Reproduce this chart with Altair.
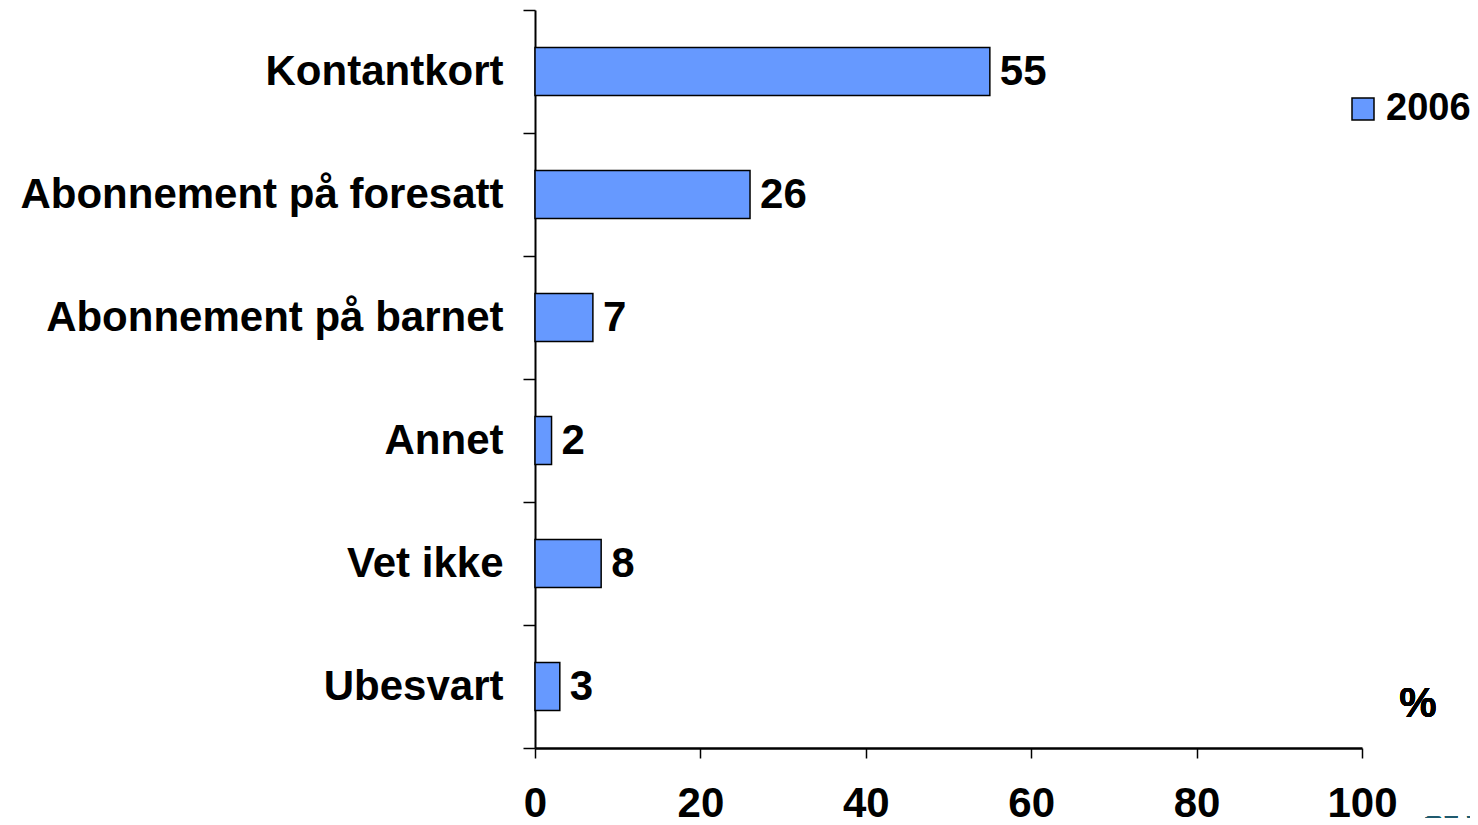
import altair as alt
import pandas as pd

categories = ["Kontantkort", "Abonnement på foresatt", "Abonnement på barnet", "Annet", "Vet ikke", "Ubesvart"]
values = [55, 26, 7, 2, 8, 3]
series = ["2006"] * len(categories)
x_ticks = [0, 20, 40, 60, 80, 100]

df = pd.DataFrame({"cat": categories, "val": values, "year": series})

FONT = "Liberation Sans"

y_enc = alt.Y(
    "cat:N",
    sort=categories,
    title=None,
    scale=alt.Scale(paddingInner=0, paddingOuter=0),
    axis=alt.Axis(
        tickBand="extent",
        tickSize=12,
        tickColor="black",
        tickWidth=1.5,
        domainColor="black",
        domainWidth=2,
        labelFontSize=42,
        labelFont=FONT,
        labelFontWeight="bold",
        labelColor="black",
        labelPadding=20,
        labelLimit=700,
    ),
)
x_enc = alt.X(
    "val:Q",
    title=None,
    scale=alt.Scale(domain=[0, 100], nice=False),
    axis=alt.Axis(
        values=x_ticks,
        grid=False,
        tickSize=10,
        tickColor="black",
        tickWidth=1.5,
        domainColor="black",
        domainWidth=2.5,
        labelFontSize=42,
        labelFont=FONT,
        labelFontWeight="bold",
        labelColor="black",
        labelPadding=25,
        labelFlush=False,
    ),
)

bars = alt.Chart(df).mark_bar(stroke="black", strokeWidth=1.5, height=48).encode(
    x=x_enc,
    y=y_enc,
    color=alt.Color(
        "year:N",
        title=None,
        scale=alt.Scale(range=["#6699FF"]),
        legend=alt.Legend(
            orient="none",
            legendX=809,
            legendY=80,
            symbolType="square",
            symbolSize=484,
            symbolStrokeColor="black",
            symbolStrokeWidth=1.5,
            symbolFillColor="#6699FF",
            labelFontSize=38,
            labelFont=FONT,
            labelFontWeight="bold",
            labelColor="black",
            labelOffset=4,
            labelLimit=300,
            padding=0,
        ),
    ),
)

labels = alt.Chart(df).mark_text(
    align="left", baseline="middle", dx=10, fontSize=42, font=FONT, fontWeight="bold", color="black"
).encode(x="val:Q", y=alt.Y("cat:N", sort=categories), text="val:Q")

pct = alt.Chart(df).mark_text(
    text="%", fontSize=42, font=FONT, fontWeight="bold", color="black", align="center", baseline="middle"
).encode(x=alt.value(883), y=alt.value(694))

logo = alt.Chart(df).mark_text(
    text="SVI", fontSize=44, font="Liberation Serif", fontWeight="bold", color="#1f5a6e", align="left", baseline="alphabetic"
).encode(x=alt.value(885), y=alt.value(835))

chart = alt.layer(bars, labels, pct, logo).properties(
    width=827,
    height=738,
    autosize=alt.AutoSizeParams(type="none"),
    padding={"left": 527, "top": 2, "right": 108, "bottom": 70},
).configure_view(stroke=None)

chart.save("out.html", embed_options={"renderer": "svg", "actions": False})
